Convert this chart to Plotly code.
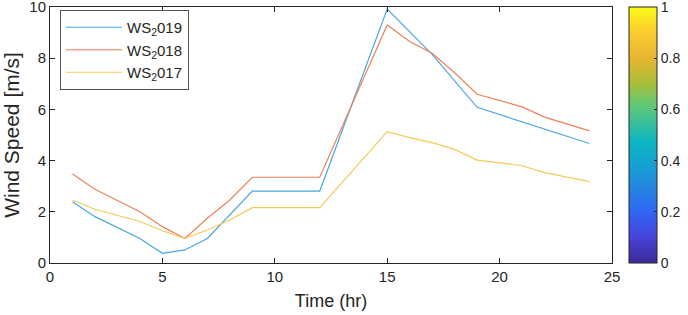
import plotly.graph_objects as go

hours_2019 = [1, 2, 4, 5, 6, 7, 9, 12, 15, 17, 19, 21, 24]
ws_2019 = [2.39, 1.81, 0.96, 0.38, 0.51, 0.96, 2.81, 2.81, 9.92, 8.15, 6.08, 5.52, 4.67]

hours_2018 = [1, 2, 4, 5, 6, 7, 8, 9, 12, 15, 16, 17, 18, 19, 21, 22, 24]
ws_2018 = [3.48, 2.88, 2.0, 1.42, 0.96, 1.75, 2.46, 3.35, 3.35, 9.3, 8.65, 8.19, 7.43, 6.59, 6.1, 5.7, 5.16]

hours_2017 = [1, 2, 4, 5, 6, 7, 8, 9, 12, 15, 16, 17, 18, 19, 21, 22, 24]
ws_2017 = [2.46, 2.1, 1.62, 1.26, 0.96, 1.29, 1.68, 2.16, 2.16, 5.13, 4.9, 4.7, 4.44, 4.02, 3.8, 3.53, 3.18]

series_names = ["WS<sub>2</sub>019", "WS<sub>2</sub>018", "WS<sub>2</sub>017"]
series_colors = ["#4CA5E0", "#EF8158", "#F7C95A"]

x_ticks = [0, 5, 10, 15, 20, 25]
y_ticks = [0, 2, 4, 6, 8, 10]
cbar_ticks = [0, 0.2, 0.4, 0.6, 0.8, 1]

parula = [
    [0.0, "#3B2A98"], [0.1, "#4743DA"], [0.2, "#3066F2"], [0.3, "#2388E0"],
    [0.4, "#13A5D0"], [0.47, "#0BB6C4"], [0.55, "#3CC09A"], [0.62, "#62C874"],
    [0.7, "#A8BE3A"], [0.8, "#E8B532"], [0.9, "#FCCB2F"], [1.0, "#F9FB15"],
]

font_family = "Liberation Sans, Arial, sans-serif"
ink = "#262626"

fig = go.Figure()
for hx, wy, name, color in zip([hours_2019, hours_2018, hours_2017],
                               [ws_2019, ws_2018, ws_2017], series_names, series_colors):
    fig.add_trace(go.Scatter(x=hx, y=wy, mode="lines", name=name,
                             line=dict(color=color, width=1.2)))

# colorbar carrier
fig.add_trace(go.Scatter(
    x=[None], y=[None], mode="markers", showlegend=False, hoverinfo="skip",
    marker=dict(color=[0, 1], cmin=0, cmax=1, colorscale=parula, showscale=True,
                colorbar=dict(
                    x=(629 - 50) / 562, xanchor="left", xref="paper",
                    y=0, yanchor="bottom", len=1, lenmode="fraction",
                    thickness=28, thicknessmode="pixels",
                    tickvals=cbar_ticks, ticktext=[f"{t:g}" for t in cbar_ticks],
                    ticks="inside", ticklen=3, tickcolor=ink,
                    outlinewidth=1, outlinecolor=ink,
                    ticklabeloverflow="allow",
                    tickfont=dict(size=14, color=ink, family=font_family),
                    xpad=0, ypad=0,
                ))))

fig.update_layout(
    width=688, height=315,
    margin=dict(l=50, r=76, t=7, b=52, autoexpand=False),
    plot_bgcolor="white", paper_bgcolor="white",
    font=dict(family=font_family, color=ink, size=15),
    showlegend=True,
    legend=dict(x=(60 - 50) / 562, y=(263 - 10) / 256, xanchor="left", yanchor="top",
                bgcolor="white", bordercolor="#555555", borderwidth=1,
                font=dict(size=15, color=ink, family=font_family),
                itemwidth=56, tracegroupgap=2),
)

fig.update_xaxes(range=[0, 25], tickvals=x_ticks, ticks="inside", ticklen=5,
                 showline=True, linecolor=ink, linewidth=1, mirror="ticks",
                 showgrid=False, zeroline=False, tickcolor=ink, automargin=False,
                 ticklabeloverflow="allow",
                 tickfont=dict(size=15, color=ink),
                 title=dict(text="Time (hr)", font=dict(size=18, color=ink), standoff=10))
fig.update_yaxes(range=[0, 10], tickvals=y_ticks, ticks="inside", ticklen=5,
                 showline=True, linecolor=ink, linewidth=1, mirror="ticks",
                 showgrid=False, zeroline=False, tickcolor=ink, automargin=False,
                 ticklabeloverflow="allow",
                 tickfont=dict(size=15, color=ink),
                 title=dict(text="Wind Speed [m/s]", font=dict(size=21, color=ink), standoff=5))

fig.write_html("out.html", config={"displayModeBar": False},
               post_script="document.body.style.margin='0';")
